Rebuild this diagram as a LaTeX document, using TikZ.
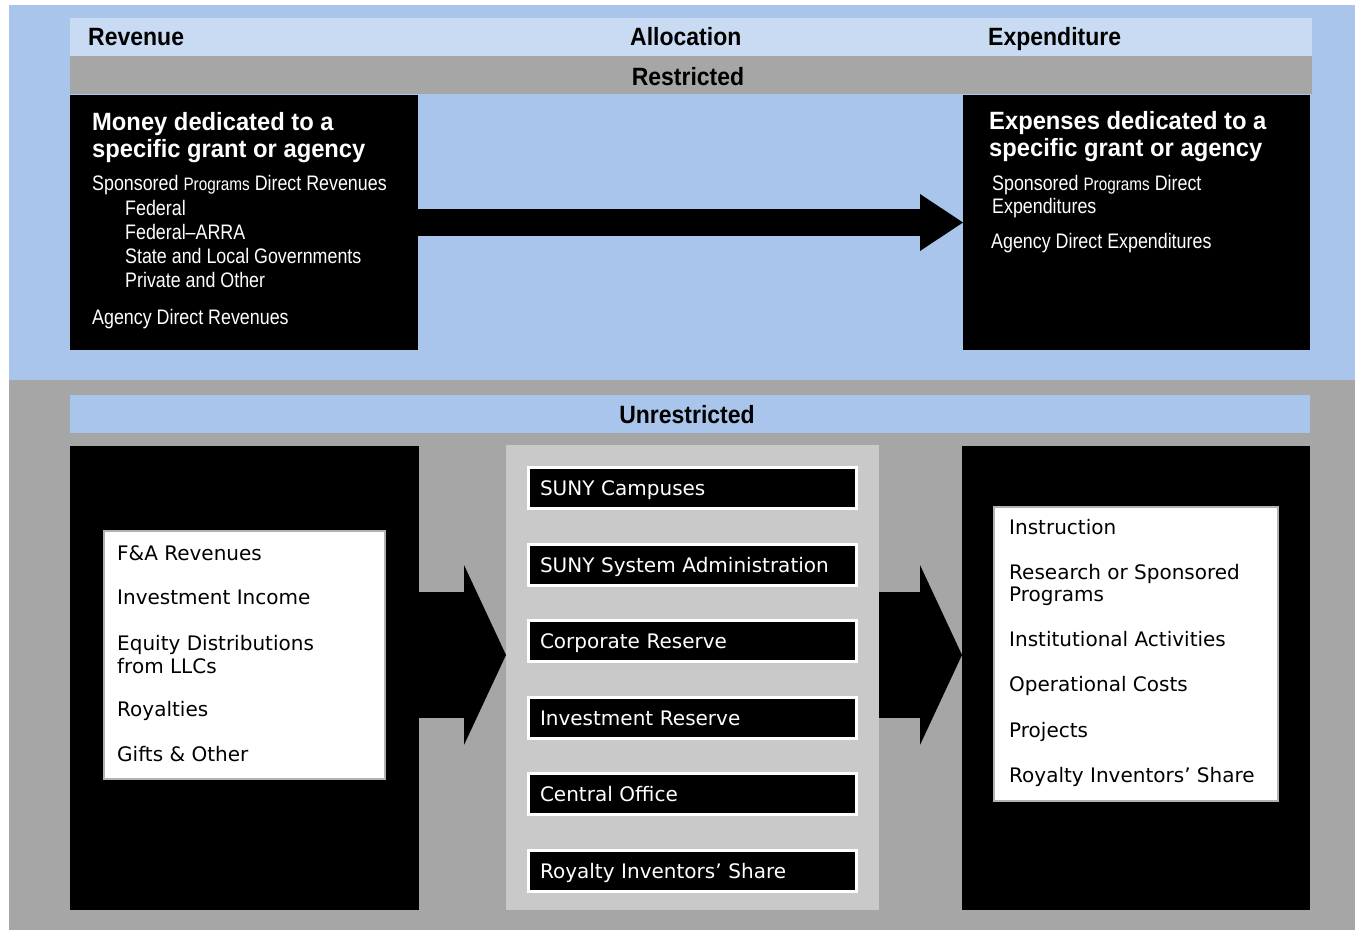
\documentclass[tikz,border=0pt]{standalone}
\usepackage{fontspec}
\setmainfont{Liberation Sans}
\newfontfamily\headfont[FakeStretch=0.92]{Liberation Sans}
\newfontfamily\titlefont[FakeStretch=0.95]{Liberation Sans}
\newfontfamily\bodyfont[FakeStretch=0.85]{Liberation Sans}
\newfontfamily\listfont{DejaVu Sans}
\usepackage{xcolor}
\definecolor{skyblue}{RGB}{169,197,236}
\definecolor{paleblue}{RGB}{201,219,243}
\definecolor{midgray}{RGB}{166,166,166}
\definecolor{panelgray}{RGB}{201,201,201}
\usetikzlibrary{arrows.meta,positioning}
\tikzstyle{band} = [anchor=north west,inner sep=0pt,outer sep=0pt]
\tikzstyle{blackbox} = [band,fill=black]
\tikzstyle{listbox} = [band,fill=white,draw=gray!60,line width=2pt]
\tikzstyle{head} = [anchor=base west,inner sep=0pt,font=\headfont\bfseries\fontsize{25}{30}\selectfont]
\tikzstyle{title} = [anchor=base west,inner sep=0pt,text=white,font=\titlefont\bfseries\fontsize{25}{30}\selectfont]
\tikzstyle{body} = [anchor=base west,inner sep=0pt,text=white,font=\bodyfont\fontsize{21}{24}\selectfont]
\tikzstyle{item} = [anchor=base west,inner sep=0pt,font=\listfont\fontsize{20}{24}\selectfont]
\tikzstyle{unitbox} = [fill=black,draw=white,line width=3pt,text=white,minimum width=328pt,minimum height=41pt,
  text width=305pt,inner xsep=11.5pt,text height=15pt,text depth=0pt,align=left,font=\listfont\fontsize{20}{24}\selectfont]
\tikzstyle{thinflow} = [line width=27pt,-{Triangle[length=43pt,width=57pt,line width=0pt]}]
\tikzstyle{fatflow} = [line width=126pt,-{Triangle[length=42pt,width=180pt,line width=0pt]}]
\newcommand{\smallprog}{{\fontsize{18}{20}\selectfont Programs}}

\begin{document}
\begin{tikzpicture}[x=1pt,y=-1pt]
\useasboundingbox (0,0) rectangle (1355,932);
% Backgrounds
\fill[skyblue] (9,5) rectangle (1355,380);
\fill[midgray] (9,380) rectangle (1355,930);

% Column headings
\node[band,fill=paleblue,minimum width=1242pt,minimum height=39pt] (cols) at (70,18) {};
\node[band,fill=midgray,minimum width=1242pt,minimum height=38pt] (rbar) at (70,56) {};
\node[head] (hrev) at (88,45) {Revenue};
\node[head] (halloc) at (630,45) {Allocation};
\node[head] (hexp) at (988,45) {Expenditure};
\node[head,anchor=base] (hres) at (688,85) {Restricted};

% Restricted boxes
\node[blackbox,minimum width=348pt,minimum height=255pt] (rlft) at (70,95) {};
\node[blackbox,minimum width=347pt,minimum height=255pt] (rrgt) at (963,95) {};
\draw[thinflow] (rlft.east) -- (rrgt.west);

\node[title] (rl1) at (92,130) {Money dedicated to a};
\node[title] (rl2) at (92,157) {specific grant or agency};
\node[body] (rl3) at (92,190) {Sponsored \smallprog{} Direct Revenues};
\node[body] (rl4) at (125,215) {Federal};
\node[body] (rl5) at (125,239) {Federal–ARRA};
\node[body] (rl6) at (125,263) {State and Local Governments};
\node[body] (rl7) at (125,287) {Private and Other};
\node[body] (rl8) at (92,324) {Agency Direct Revenues};

\node[title] (rr1) at (989,129) {Expenses dedicated to a};
\node[title] (rr2) at (989,156) {specific grant or agency};
\node[body] (rr3) at (992,190) {Sponsored \smallprog{} Direct};
\node[body] (rr4) at (992,213) {Expenditures};
\node[body] (rr5) at (991,248) {Agency Direct Expenditures};

% Unrestricted part
\node[band,fill=skyblue,minimum width=1240pt,minimum height=38pt] (ubar) at (70,395) {};
\node[head,anchor=base] (hunres) at (687,423) {Unrestricted};

\node[blackbox,minimum width=349pt,minimum height=464pt] (ulft) at (70,446) {};
\node[band,fill=panelgray,minimum width=373pt,minimum height=465pt] (mid) at (506,445) {};
\node[blackbox,minimum width=348pt,minimum height=464pt] (urgt) at (962,446) {};
\coordinate (flow) at (0,655);
\draw[fatflow] (ulft.east |- flow) -- (mid.west |- flow);
\draw[fatflow] (mid.east |- flow) -- (urgt.west |- flow);

% Revenue list
\node[listbox,minimum width=281pt,minimum height=248pt] (inbox) at (104,531) {};
\foreach \y/\t [count=\i] in {560/F\&A Revenues,604/Investment Income,650/Equity Distributions,
  673/from LLCs,716/Royalties,761/Gifts \& Other}
  \node[item] (in\i) at (117,\y) {\t};

% Allocation units
\foreach \t [count=\i] in {SUNY Campuses,SUNY System Administration,Corporate Reserve,
  Investment Reserve,Central Office,Royalty Inventors’ Share}
  \node[unitbox] (unit\i) at (692.5,{411.4+76.6*\i}) {\t};

% Expenditure list
\node[listbox,minimum width=284pt,minimum height=294pt] (outbox) at (994,507) {};
\foreach \y/\t [count=\i] in {534/Instruction,579/Research or Sponsored,601/Programs,
  646/Institutional Activities,691/Operational Costs,737/Projects,782/Royalty Inventors’ Share}
  \node[item] (out\i) at (1009,\y) {\t};
\end{tikzpicture}
\end{document}
